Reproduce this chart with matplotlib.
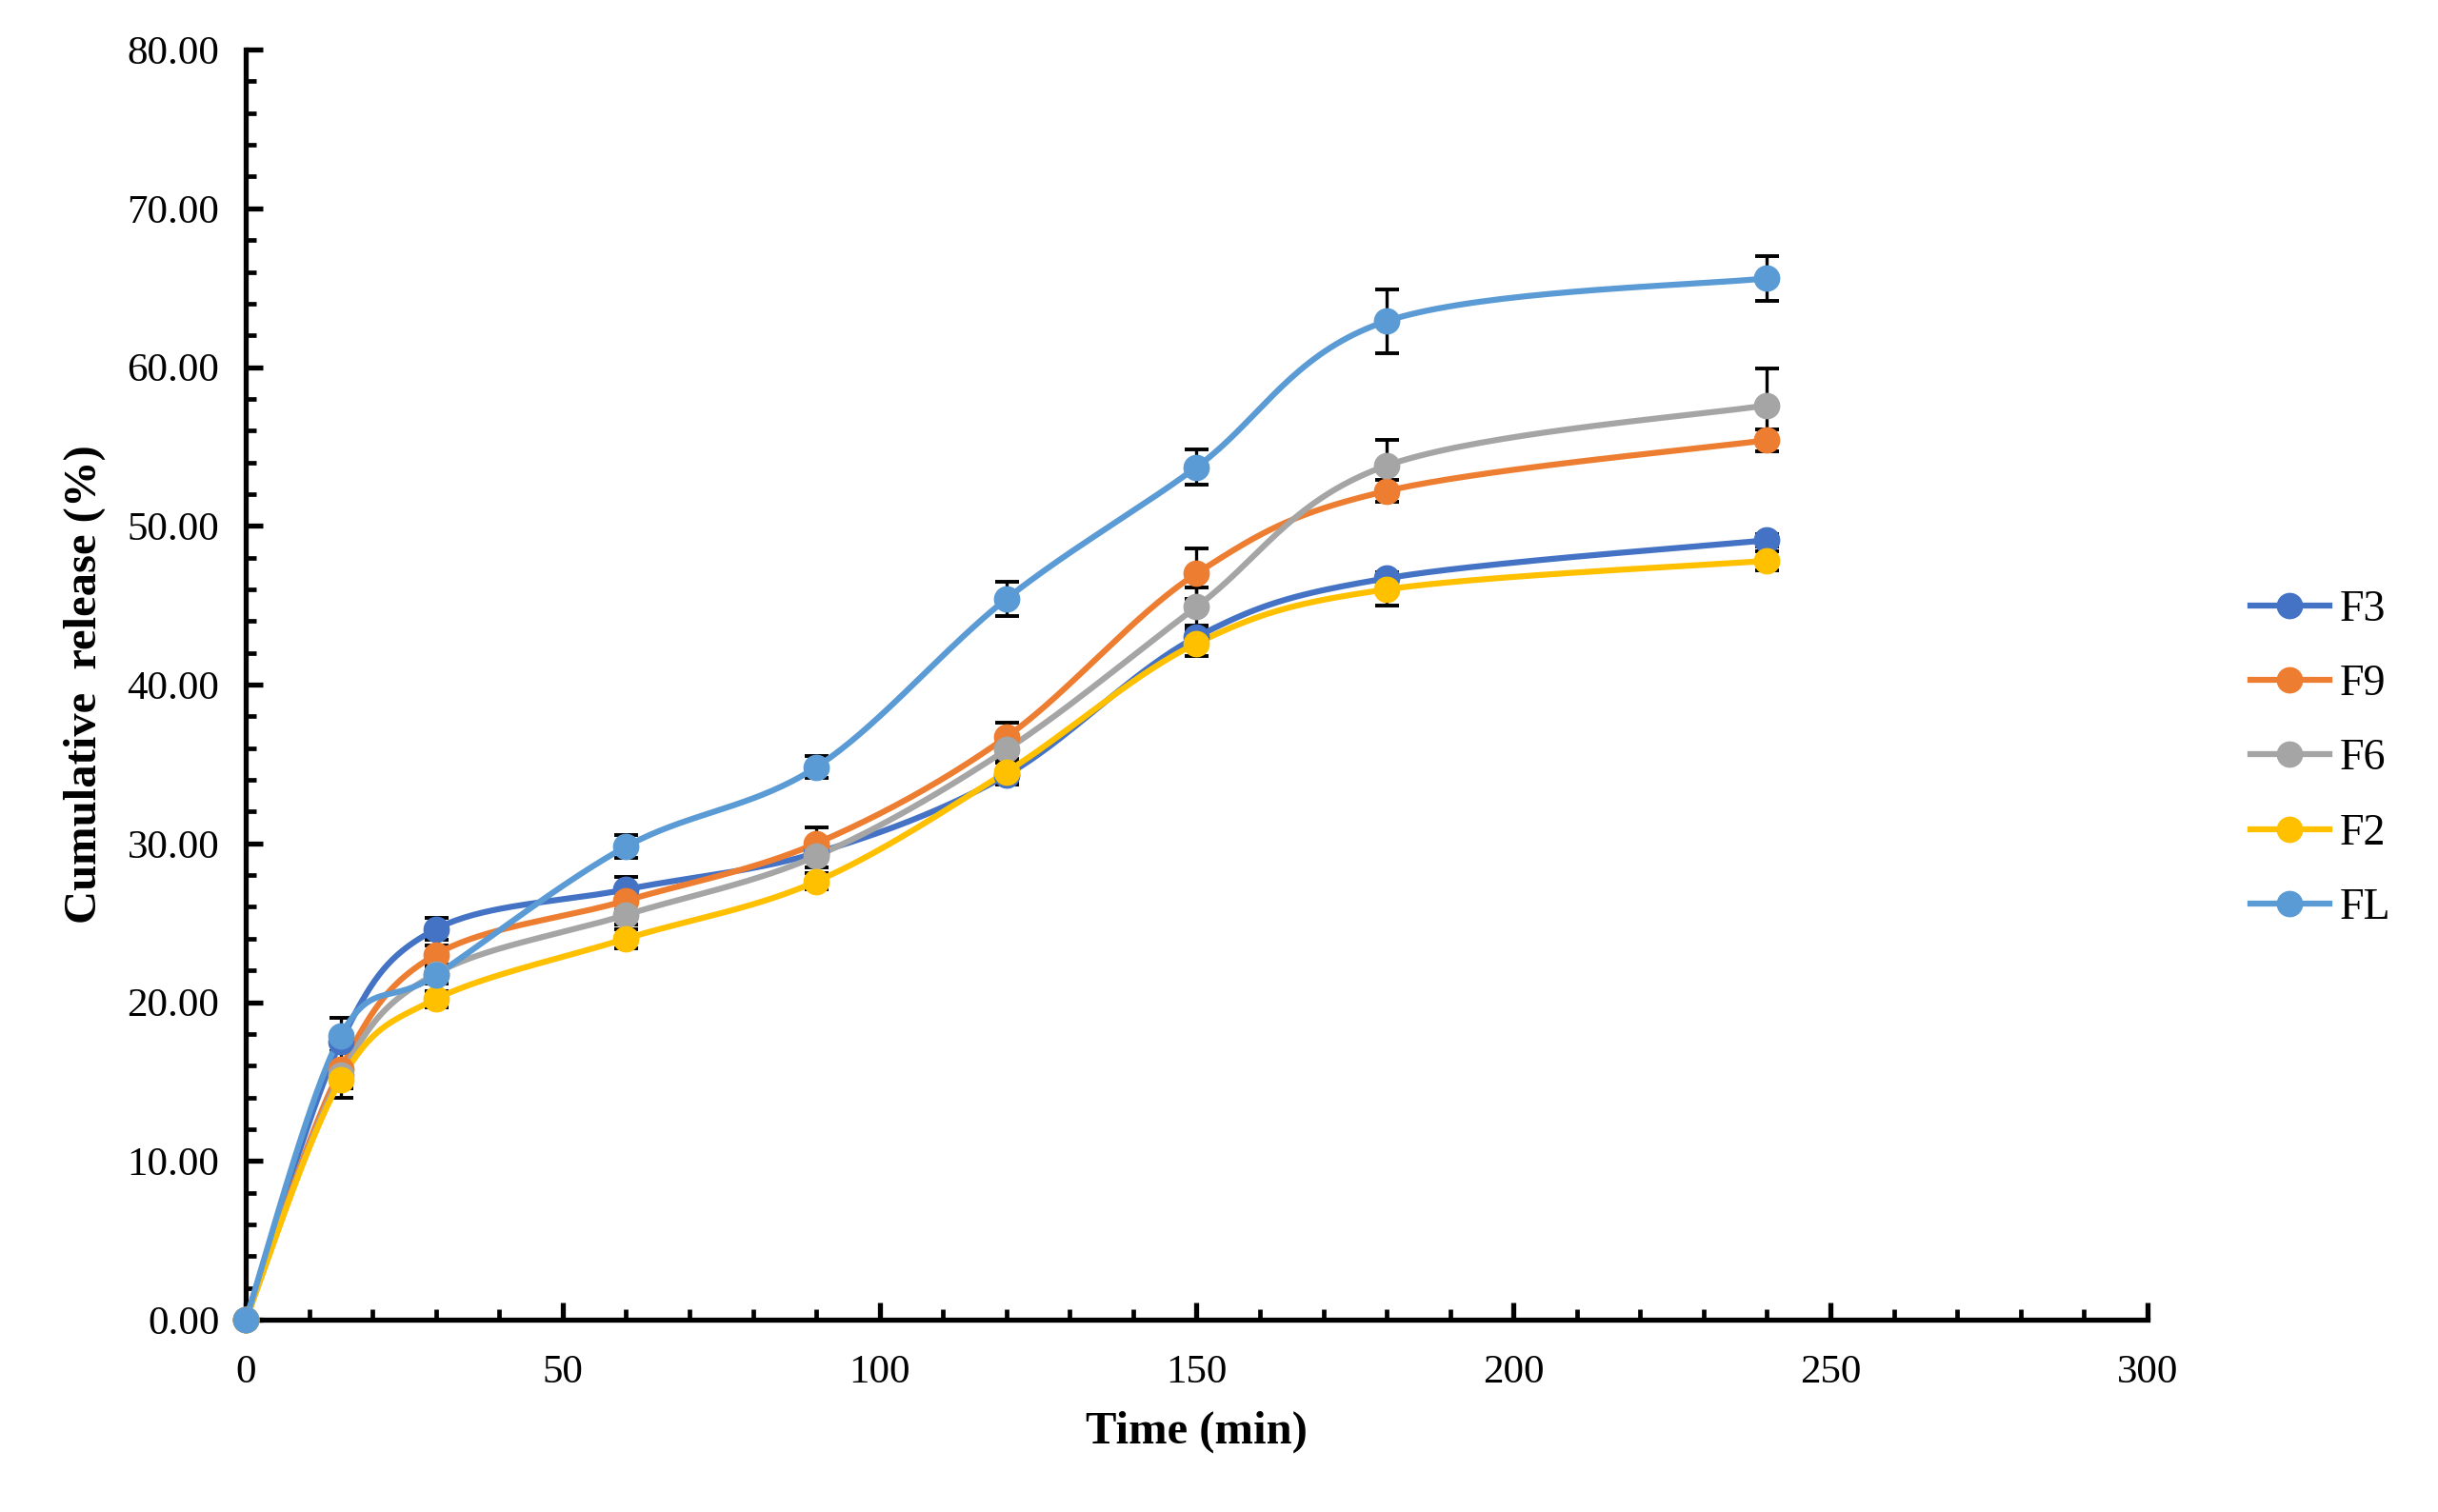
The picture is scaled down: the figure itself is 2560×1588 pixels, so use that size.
import numpy as np
import matplotlib
matplotlib.use("Agg")
import matplotlib.pyplot as plt
from matplotlib.ticker import MultipleLocator, FormatStrFormatter
from matplotlib.lines import Line2D

plt.rcParams['font.family'] = ['Liberation Serif', 'DejaVu Serif']

# sampling times (min)
time_min = [0, 15, 30, 60, 90, 120, 150, 180, 240]

series_names = ["F3", "F9", "F6", "F2", "FL"]
series_colors = ["#4472C4", "#ED7D31", "#A5A5A5", "#FFC000", "#5B9BD5"]

# cumulative release (%)
f3 = [0, 17.5, 24.6, 27.1, 29.4, 34.3, 43.0, 46.7, 49.1]
f9 = [0, 15.8, 23.0, 26.4, 30.0, 36.7, 47.0, 52.2, 55.4]
f6 = [0, 15.4, 21.8, 25.5, 29.2, 35.9, 44.9, 53.8, 57.6]
f2 = [0, 15.1, 20.2, 24.0, 27.6, 34.5, 42.6, 46.0, 47.8]
fl = [0, 17.9, 21.7, 29.8, 34.8, 45.4, 53.7, 62.9, 65.6]

# standard deviations
f3_err = [0, 0.6, 0.7, 0.8, 0.4, 0.4, 0.5, 0.4, 0.4]
f9_err = [0, 1.0, 0.6, 0.6, 1.0, 0.9, 1.6, 0.7, 0.7]
f6_err = [0, 0.8, 0.5, 0.6, 0.7, 0.8, 1.2, 1.6, 2.3]
f2_err = [0, 1.1, 0.5, 0.6, 0.5, 0.8, 0.8, 1.0, 0.6]
fl_err = [0, 1.1, 0.5, 0.7, 0.7, 1.1, 1.1, 2.0, 1.4]

values = [f3, f9, f6, f2, fl]
errors = [f3_err, f9_err, f6_err, f2_err, fl_err]


def smooth(x, y, n=40):
    # Excel-style smoothed line (Catmull-Rom as cubic Bezier)
    x = np.asarray(x, float)
    y = np.asarray(y, float)
    px = np.concatenate([[x[0]], x, [x[-1]]])
    py = np.concatenate([[y[0]], y, [y[-1]]])
    t = np.linspace(0, 1, n)
    xs, ys = [], []
    for i in range(1, len(px) - 2):
        x0, y0 = px[i], py[i]
        x3, y3 = px[i + 1], py[i + 1]
        x1 = x0 + (px[i + 1] - px[i - 1]) / 6
        y1 = y0 + (py[i + 1] - py[i - 1]) / 6
        x2 = x3 - (px[i + 2] - px[i]) / 6
        y2 = y3 - (py[i + 2] - py[i]) / 6
        b0 = (1 - t) ** 3
        b1 = 3 * (1 - t) ** 2 * t
        b2 = 3 * (1 - t) * t ** 2
        b3 = t ** 3
        xs.append(b0 * x0 + b1 * x1 + b2 * x2 + b3 * x3)
        ys.append(b0 * y0 + b1 * y1 + b2 * y2 + b3 * y3)
    return np.concatenate(xs), np.concatenate(ys)


fig = plt.figure(figsize=(25.6, 15.88), dpi=100)
ax = fig.add_axes([0.1008, 0.1272, 0.7800, 0.8400])

for name, col, v, e in zip(series_names, series_colors, values, errors):
    ax.errorbar(time_min, v, yerr=e, fmt="none", ecolor="black",
                elinewidth=2.4, capsize=9, capthick=2.8, zorder=2, clip_on=False)
    sx, sy = smooth(time_min, v)
    ax.plot(sx, sy, color=col, lw=4.5, zorder=3, solid_capstyle="round", clip_on=False)
    ax.plot(time_min, v, "o", color=col, ms=19, zorder=4, clip_on=False)

ax.set_xlim(0, 300)
ax.set_ylim(0, 80)
ax.xaxis.set_major_locator(MultipleLocator(50))
ax.xaxis.set_minor_locator(MultipleLocator(10))
ax.yaxis.set_major_locator(MultipleLocator(10))
ax.yaxis.set_minor_locator(MultipleLocator(2))
ax.yaxis.set_major_formatter(FormatStrFormatter("%.2f"))

for s in ["top", "right"]:
    ax.spines[s].set_visible(False)
for s in ["left", "bottom"]:
    ax.spines[s].set_linewidth(3.8)

ax.tick_params(which="major", direction="in", length=13, width=3.8, labelsize=31, pad=20)
ax.tick_params(which="minor", direction="in", length=8, width=3.4)
ax.tick_params(axis="x", which="major", pad=26)

ax.set_xlabel("Time (min)", fontsize=35, fontweight="bold", labelpad=15)
ax.set_ylabel("Cumulative  release (%)", fontsize=35, fontweight="bold", labelpad=16)

handles = [Line2D([0], [0], color=c, lw=4.5, marker="o", ms=19) for c in series_colors]
fig.legend(handles, series_names, loc="center left", bbox_to_anchor=(0.907, 0.498),
           frameon=False, fontsize=33, handlelength=1.8, handletextpad=0.25,
           labelspacing=0.78)

fig.savefig("out.png", dpi=100)
